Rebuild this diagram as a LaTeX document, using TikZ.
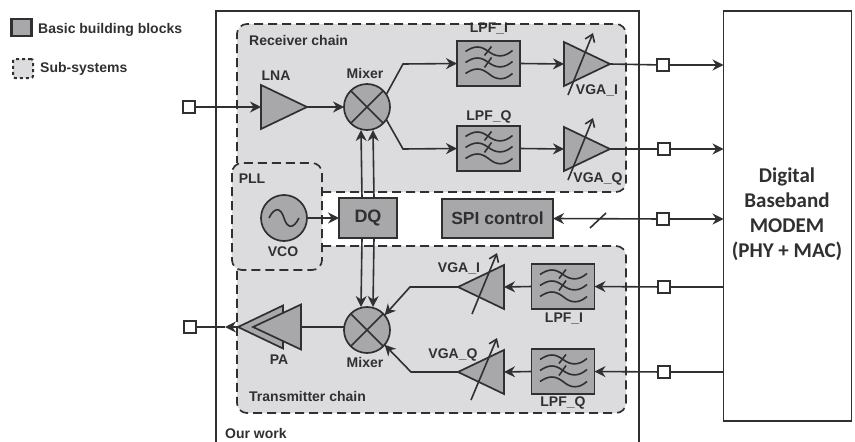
\documentclass[tikz,border=0pt]{standalone}
\usepackage{fontspec}
\setmainfont{Liberation Sans}
\newfontfamily\modemfont{Carlito}
\usetikzlibrary{arrows.meta,shapes.geometric}
\definecolor{inkdark}{HTML}{303030}
\definecolor{blockgray}{HTML}{A8A8AA}
\definecolor{subgray}{HTML}{DCDCDE}
\tikzset{
	>={Stealth[length=11pt,width=11pt]},
	tunearrow/.style={wire,-{Straight Barb[length=7pt,width=10pt]}},
	wire/.style={draw=inkdark,line width=1.6pt},
	subsys/.style={draw=inkdark,fill=subgray,line width=1.7pt,dash pattern=on 9pt off 5pt,rounded corners=10pt},
	blockbox/.style={draw=inkdark,fill=blockgray,line width=1.7pt,inner sep=0pt,outer sep=0pt},
	portbox/.style={draw=inkdark,fill=white,line width=1.4pt,minimum size=12pt,inner sep=0pt,outer sep=0pt},
	lbl/.style={text=inkdark,font=\fontsize{14}{16}\selectfont\bfseries,inner sep=0pt},
	mixerblk/.style={circle,blockbox,minimum size=46pt,path picture={
		\draw[wire] (path picture bounding box.north west) -- (path picture bounding box.south east);
		\draw[wire] (path picture bounding box.north east) -- (path picture bounding box.south west);}},
	filterblk/.style={rectangle,blockbox,minimum width=63pt,minimum height=45pt,path picture={
		\draw[wire,shift={(path picture bounding box.center)}] (-23,-12) .. controls (-14,-18) and (-8,-18) .. (0,-12) .. controls (8,-6) and (16,-6) .. (24,-13);
		\draw[wire,shift={(path picture bounding box.center)}] (-23,-1) .. controls (-14,-7) and (-8,-7) .. (0,-1) .. controls (8,5) and (16,5) .. (24,-2);
		\draw[wire,shift={(path picture bounding box.center)}] (-23,10) .. controls (-14,4) and (-8,4) .. (0,10) .. controls (8,17) and (16,17) .. (24,10);
		\draw[wire,shift={(path picture bounding box.center)}] (-4,-8) -- (3,-17);
		\draw[wire,shift={(path picture bounding box.center)}] (-4,4) -- (3,-6);}},
	ampblk/.style={isosceles triangle,isosceles triangle stretches,blockbox,anchor=apex,minimum width=44pt,minimum height=46pt},
}
\begin{document}
\begin{tikzpicture}[x=1pt,y=-1pt]
	\useasboundingbox (0,0) rectangle (855,442);

	\node[rectangle,blockbox,line width=2.5pt,minimum width=20pt,minimum height=17pt] (legendblock) at (21.5,27.5) {};
	\node[lbl,anchor=west] (legendblocktext) at (38,30) {Basic building blocks};
	\node[draw=inkdark,fill=subgray,line width=2pt,dash pattern=on 3pt off 3pt,rounded corners=2pt,minimum width=20pt,minimum height=19pt,inner sep=0pt] (legendsub) at (23,68.5) {};
	\node[lbl,anchor=west] (legendsubtext) at (40,69) {Sub-systems};

	\draw[wire] (216,442) -- (216,11) -- (639,11) -- (639,442);
	\node[lbl,anchor=west] (ourwork) at (225,433) {Our work};

	\draw[subsys] (322,192) -- (626,192) -- (626,24) -- (237,24) -- (237,163);
	\draw[subsys] (322,246) -- (626,246) -- (626,413) -- (237,413) -- (237,268);
	\draw[subsys] (232,163) rectangle (322,270);

	\node[lbl,anchor=west] (rxchain) at (249,40) {Receiver chain};
	\node[lbl,anchor=west] (txchain) at (249,396) {Transmitter chain};
	\node[lbl] (plllabel) at (252,179) {PLL};

	\node[rectangle,draw=inkdark,fill=white,line width=1.7pt,minimum width=128pt,minimum height=410pt,outer sep=0pt] (modem) at (787.5,216) {};
	\node[text=inkdark,font=\modemfont\fontsize{21}{25}\selectfont\bfseries,align=center,inner sep=0pt] (modemtext) at (787,214) {Digital\\Baseband\\MODEM\\(PHY + MAC)};

	\node[portbox] (rxin) at (189,107) {};
	\node[ampblk] (lna) at (307,107) {};
	\node[lbl] (lnalabel) at (276,76) {LNA};
	\node[mixerblk] (rxmix) at (367,107) {};
	\node[lbl] (rxmixlabel) at (365,73) {Mixer};

	\node[filterblk] (rxlpfi) at (488.5,63.5) {};
	\node[filterblk] (rxlpfq) at (488.5,148.5) {};
	\node[lbl] (rxlpfilabel) at (489,29) {LPF\_I};
	\node[lbl] (rxlpfqlabel) at (489,117) {LPF\_Q};
	\node[ampblk] (rxvgai) at (610,64) {};
	\node[ampblk] (rxvgaq) at (610,149) {};
	\node[lbl] (rxvgailabel) at (597,90) {VGA\_I};
	\node[lbl] (rxvgaqlabel) at (598,179) {VGA\_Q};
	\node[portbox] (rxporti) at (663,65) {};
	\node[portbox] (rxportq) at (664,149) {};

	\node[circle,blockbox,minimum size=46pt] (vco) at (284,218) {};
	\draw[wire] ([xshift=-15pt]vco.center) .. controls ([shift={(-9,-12)}]vco.center) and ([shift={(-3,-10)}]vco.center) .. (vco.center) .. controls ([shift={(3,10)}]vco.center) and ([shift={(9,12)}]vco.center) .. ([xshift=15pt]vco.center);
	\node[lbl] (vcolabel) at (283,252) {VCO};
	\node[rectangle,blockbox,minimum width=58pt,minimum height=40pt,font=\fontsize{18}{20}\selectfont\bfseries,text=inkdark] (dq) at (368,218) {DQ};
	\node[rectangle,blockbox,minimum width=111pt,minimum height=39pt,font=\fontsize{17.5}{20}\selectfont\bfseries,text=inkdark] (spi) at (497.5,218.5) {SPI control};
	\node[portbox] (spiport) at (663,219) {};
	\coordinate (slashlow) at (590,228);
	\coordinate (slashhigh) at (606,213);

	\node[mixerblk] (txmix) at (367,330) {};
	\node[lbl] (txmixlabel) at (365,362) {Mixer};
	\node[ampblk,shape border rotate=180,minimum width=43pt,minimum height=45pt] (paback) at (238,327) {};
	\node[ampblk,shape border rotate=180,minimum width=45pt,minimum height=48pt] (pafront) at (253,327) {};
	\node[lbl] (palabel) at (279,360) {PA};
	\node[portbox] (txout) at (190,327) {};
	\coordinate (txtip) at (225,327);

	\node[ampblk,shape border rotate=180] (txvgai) at (458,287) {};
	\node[ampblk,shape border rotate=180] (txvgaq) at (458,372) {};
	\node[lbl] (txvgailabel) at (459,268) {VGA\_I};
	\node[lbl] (txvgaqlabel) at (453,355) {VGA\_Q};
	\node[filterblk] (txlpfi) at (563,286.5) {};
	\node[filterblk] (txlpfq) at (563,371.5) {};
	\node[lbl] (txlpfilabel) at (564,319) {LPF\_I};
	\node[lbl] (txlpfqlabel) at (563,403) {LPF\_Q};
	\node[portbox] (txporti) at (664,287) {};
	\node[portbox] (txportq) at (664,372) {};

	\draw[wire,->] (rxin) -- (lna.lower side);
	\draw[wire,->] (lna.apex) -- (rxmix.west);
	\draw[wire,->] (rxmix.33) -- (403,64) -- (rxlpfi.west);
	\draw[wire,->] (rxmix.-33) -- (403,149) -- (rxlpfq.west);
	\draw[wire,->] (rxlpfi.east) -- (rxvgai.lower side);
	\draw[wire,->] (rxlpfq.east) -- (rxvgaq.lower side);
	\draw[wire] (rxvgai.apex) -- (rxporti);
	\draw[wire] (rxvgaq.apex) -- (rxportq);
	\draw[wire,->] (rxporti) -- (modem.west |- rxporti);
	\draw[wire,->] (rxportq) -- (modem.west |- rxportq);
	\draw[tunearrow] ([shift={(-42,31)}]rxvgai.apex) -- ([shift={(-17,-31)}]rxvgai.apex);
	\draw[tunearrow] ([shift={(-42,31)}]rxvgaq.apex) -- ([shift={(-17,-31)}]rxvgaq.apex);

	\draw[wire,->] (vco.east) -- (dq.west);
	\draw[wire,->] ([xshift=-6pt]dq.north) -- ([xshift=-6pt]rxmix.south);
	\draw[wire,->] ([xshift=6pt]dq.north) -- ([xshift=6pt]rxmix.south);
	\draw[wire,->] ([xshift=-6pt]dq.south) -- ([xshift=-6pt]txmix.north);
	\draw[wire,->] ([xshift=6pt]dq.south) -- ([xshift=6pt]txmix.north);
	\draw[wire,->] (spiport) -- (spi.east);
	\draw[wire,->] (spiport) -- (modem.west |- spiport);
	\draw[wire] (slashlow) -- (slashhigh);

	\draw[wire] (txmix.west |- pafront) -- (pafront.lower side);
	\draw[wire,->] (paback.apex) -- (txtip);
	\draw[wire] (txtip) -- (txout);
	\draw[wire,->] (txvgai.apex) -- (410,287) -- (txmix.40);
	\draw[wire,->] (txvgaq.apex) -- (411,372) -- (txmix.-40);
	\draw[wire,->] (txlpfi.west) -- (txvgai.lower side);
	\draw[wire,->] (txlpfq.west) -- (txvgaq.lower side);
	\draw[wire,->] (txporti) -- (txlpfi.east);
	\draw[wire,->] (txportq) -- (txlpfq.east);
	\draw[wire] (modem.west |- txporti) -- (txporti);
	\draw[wire] (modem.west |- txportq) -- (txportq);
	\draw[tunearrow] ([shift={(14,27)}]txvgai.apex) -- ([shift={(39,-34)}]txvgai.apex);
	\draw[tunearrow] ([shift={(13,28)}]txvgaq.apex) -- ([shift={(39,-34)}]txvgaq.apex);
\end{tikzpicture}
\end{document}
